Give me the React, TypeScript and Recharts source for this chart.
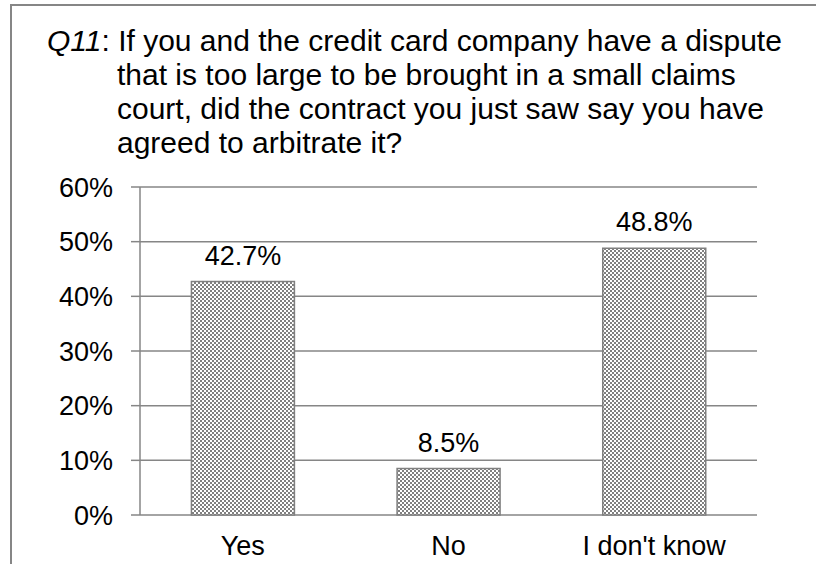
import { BarChart, Bar, XAxis, YAxis, CartesianGrid, LabelList } from 'recharts';

const categories = ['Yes', 'No', "I don't know"];
const shares = [0.427, 0.085, 0.488];
const yTicks = [0, 0.1, 0.2, 0.3, 0.4, 0.5, 0.6];
const boundaryTicks = [0, 1, 2, 3];
const titleLines = [
  'that is too large to be brought in a small claims',
  'court, did the contract you just saw say you have',
  'agreed to arbitrate it?',
];

const GRAY = '#868686';
const FONT = '"Liberation Sans", Arial, sans-serif';
const AXIS_FS = 27;

const data = categories.map((c, i) => ({ name: c, value: shares[i], idx: i }));

const pct = (v: number) => `${Math.round(v * 100)}%`;
const pct1 = (v: number) => `${(v * 100).toFixed(1)}%`;

export default function App() {
  return (
    <div
      style={{
        position: 'absolute', left: 0, top: 0, width: 816, height: 564,
        background: '#fff', overflow: 'hidden', fontFamily: FONT,
      }}
    >
      <div
        style={{
          position: 'absolute', left: 10, top: 4, width: 900, height: 700,
          border: `2px solid ${GRAY}`,
        }}
      />
      <div style={{ position: 'absolute', left: 0, top: 0 }}>
        <BarChart
          width={816}
          height={564}
          data={data}
          margin={{ top: 187, right: 59, left: 0, bottom: 9 }}
          barCategoryGap="25%"
        >
          <defs>
            <pattern id="checker" width="4" height="4" patternUnits="userSpaceOnUse">
              <rect width="4" height="4" fill="#ffffff" />
              <rect x="0" y="0" width="2" height="2" fill="#808080" />
              <rect x="2" y="2" width="2" height="2" fill="#808080" />
            </pattern>
          </defs>
          <CartesianGrid
            yAxisId="y"
            xAxisId="cat"
            vertical={false}
            stroke={GRAY}
            strokeWidth={1.5}
          />
          <XAxis
            xAxisId="edges"
            type="number"
            dataKey="idx"
            domain={[0, 3]}
            allowDataOverflow
            ticks={boundaryTicks}
            height={0}
            tickSize={9}
            tickFormatter={() => ''}
            stroke={GRAY}
            strokeWidth={1.5}
          />
          <XAxis
            xAxisId="cat"
            dataKey="name"
            height={40}
            axisLine={false}
            tickLine={false}
            tickSize={6}
            tickMargin={15}
            interval={0}
            tick={{ fontSize: AXIS_FS, fill: '#000', fontFamily: FONT }}
          />
          <YAxis
            yAxisId="y"
            width={140}
            domain={[0, 0.6]}
            ticks={yTicks}
            tickFormatter={pct}
            tickSize={9}
            tickMargin={18}
            stroke={GRAY}
            strokeWidth={1.5}
            tick={{ fontSize: AXIS_FS, fill: '#000', fontFamily: FONT }}
          />
          <Bar
            xAxisId="cat"
            yAxisId="y"
            dataKey="value"
            fill="url(#checker)"
            stroke="#808080"
            strokeWidth={1.5}
            isAnimationActive={false}
          >
            <LabelList
              dataKey="value"
              position="top"
              offset={17}
              formatter={(v: number) => pct1(v)}
              style={{ fontSize: AXIS_FS, fill: '#000', fontFamily: FONT }}
            />
          </Bar>
        </BarChart>
      </div>
      <div
        style={{
          position: 'absolute', left: 47, top: 24, fontSize: 30,
          lineHeight: '34px', color: '#000', whiteSpace: 'nowrap',
        }}
      >
        <div>
          <i>Q11</i>: If you and the credit card company have a dispute
        </div>
        {titleLines.map((t) => (
          <div key={t} style={{ paddingLeft: 70 }}>{t}</div>
        ))}
      </div>
    </div>
  );
}
